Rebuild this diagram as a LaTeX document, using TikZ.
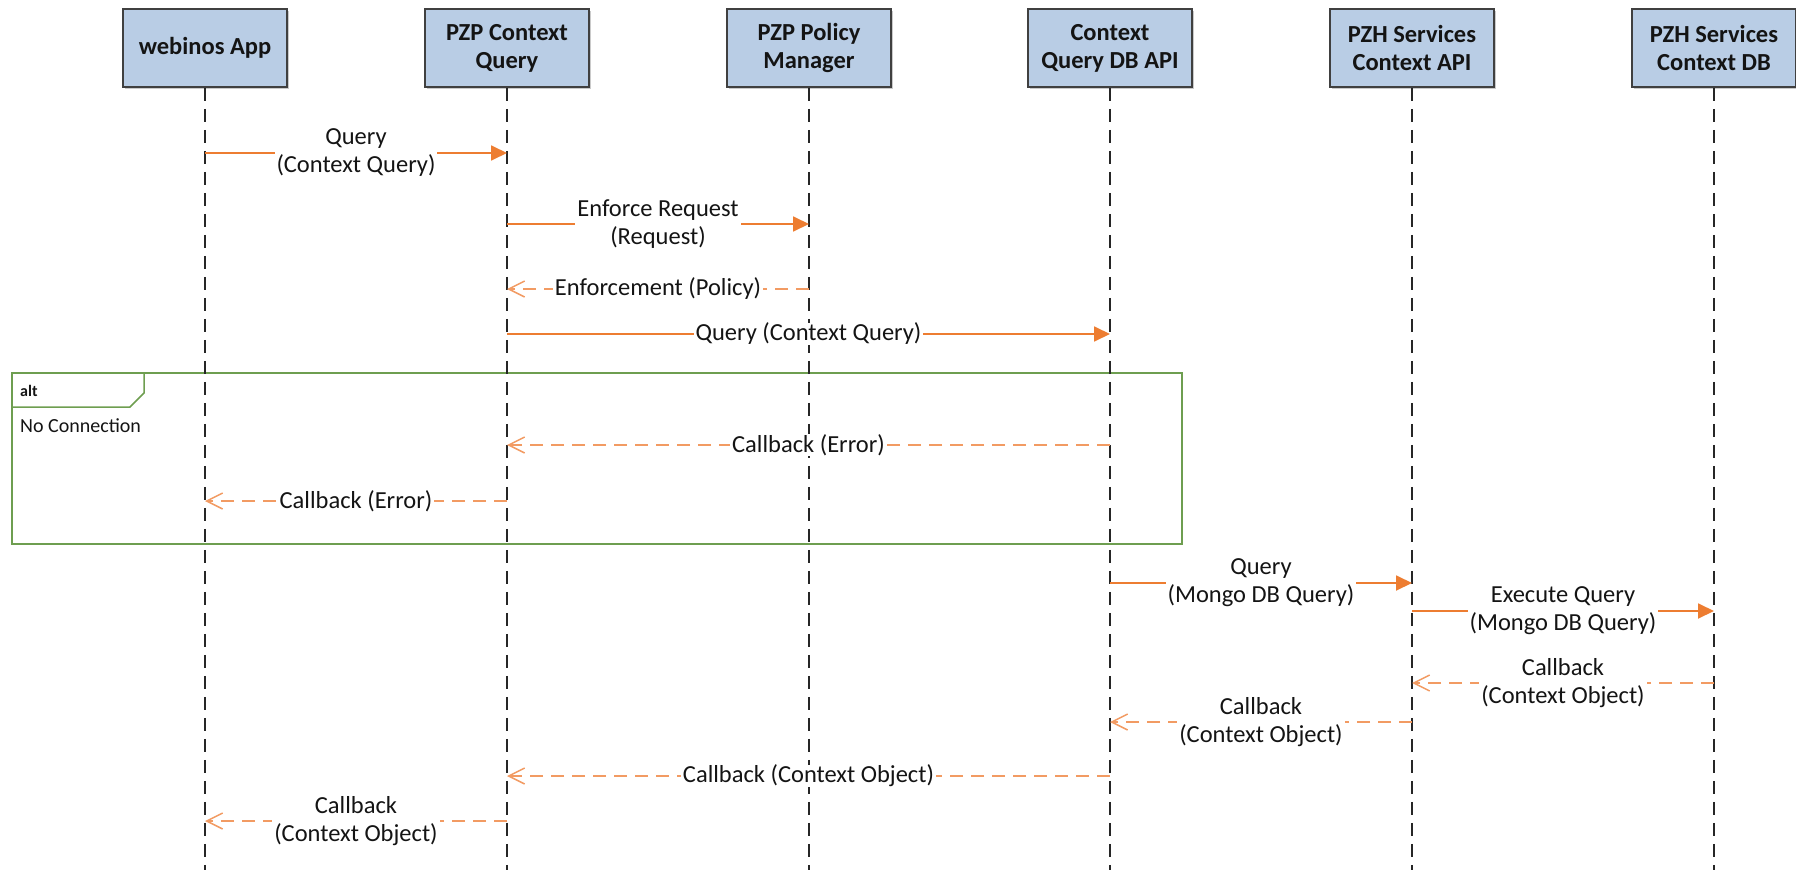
\documentclass[tikz,border=0pt]{standalone}
\usepackage{fontspec}
\setmainfont{Carlito}
\usetikzlibrary{arrows.meta,shadows}
\definecolor{boxfill}{HTML}{B9CDE5}
\definecolor{boxline}{HTML}{404040}
\definecolor{syncc}{HTML}{ED7D31}
\definecolor{retc}{HTML}{F29B63}
\definecolor{framec}{HTML}{6E9E50}
\definecolor{txt}{HTML}{141414}
\tikzset{
 actor/.style={draw=boxline, line width=1.5pt, fill=boxfill, minimum width=164pt, minimum height=78pt,
   align=center, font=\fontsize{24.5}{28}\selectfont\bfseries, text=txt, inner sep=0pt,
   drop shadow={shadow xshift=2pt, shadow yshift=-2pt, opacity=0.35, fill=black!60}},
 lifeline/.style={draw=black!85, line width=2pt, dash pattern=on 13pt off 8pt},
 sync/.style={draw=syncc, line width=1.8pt, -{Triangle[length=16pt,width=15pt]}},
 ret/.style={draw=retc, line width=1.8pt, dash pattern=on 13pt off 8pt,
   -{Straight Barb[length=16pt,width=16pt,line width=1.5pt]}},
 lbl/.style={fill=white, text=txt, align=center, font=\fontsize{24.5}{28}\selectfont, inner xsep=2pt, inner ysep=0pt},
 altframe/.style={draw=framec, line width=1.5pt},
}
\newcommand{\seqmsg}[5]{\draw[#1] (#2 |- 0,#4) -- (#3 |- 0,#4) node[lbl,midway] {#5};}
\begin{document}
\begin{tikzpicture}[x=1pt,y=-1pt]
\useasboundingbox (0,0) rectangle (1796,870);
% alt frame
\draw[altframe] (12,373) rectangle (1182,544);
\draw[altframe] (12,407) -- (130,407) -- (144,393) -- (144,373);
\node[anchor=west, inner sep=0pt, text=txt, font=\fontsize{16}{18}\selectfont\bfseries] (altlbl) at (20,391) {alt};
\node[anchor=west, inner sep=0pt, text=txt, font=\fontsize{20}{24}\selectfont] (nocon) at (20,426) {No Connection};
% actors
\node[actor] (app) at (205,48) {webinos App};
\node[actor] (pzp) at (507,48) {PZP Context\\Query};
\node[actor] (pm)  at (809,48) {PZP Policy\\Manager};
\node[actor] (cq)  at (1110,48) {Context\\Query DB API};
\node[actor] (api) at (1412,48) {PZH Services\\Context API};
\node[actor] (db)  at (1714,48) {PZH Services\\Context DB};
% lifeline ends
\coordinate (appE) at (205,870);
\coordinate (pzpE) at (507,870);
\coordinate (pmE)  at (809,870);
\coordinate (cqE)  at (1110,870);
\coordinate (apiE) at (1412,870);
\coordinate (dbE)  at (1714,870);
\draw[lifeline] (app.south) -- (appE);
\draw[lifeline] (pzp.south) -- (pzpE);
\draw[lifeline] (pm.south) -- (pmE);
\draw[lifeline] (cq.south) -- (cqE);
\draw[lifeline] (api.south) -- (apiE);
\draw[lifeline] (db.south) -- (dbE);
% messages
\seqmsg{sync}{app}{pzp}{153}{Query\\(Context Query)}
\seqmsg{sync}{pzp}{pm}{224}{Enforce Request\\(Request)}
\seqmsg{ret}{pm}{pzp}{289}{Enforcement (Policy)}
\seqmsg{sync}{pzp}{cq}{334}{Query (Context Query)}
\seqmsg{ret}{cq}{pzp}{445}{Callback (Error)}
\seqmsg{ret}{pzp}{app}{501}{Callback (Error)}
\seqmsg{sync}{cq}{api}{583}{Query\\(Mongo DB Query)}
\seqmsg{sync}{api}{db}{611}{Execute Query\\(Mongo DB Query)}
\seqmsg{ret}{db}{api}{683}{Callback\\(Context Object)}
\seqmsg{ret}{api}{cq}{722}{Callback\\(Context Object)}
\seqmsg{ret}{cq}{pzp}{776}{Callback (Context Object)}
\seqmsg{ret}{pzp}{app}{821}{Callback\\(Context Object)}
\end{tikzpicture}
\end{document}
